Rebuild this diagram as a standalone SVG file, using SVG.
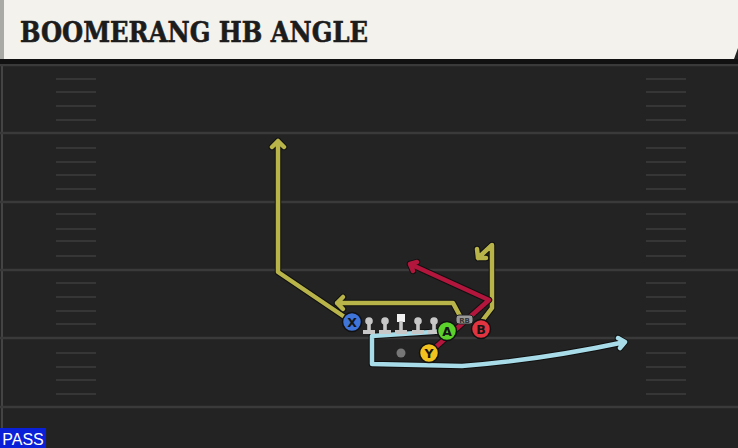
<svg xmlns="http://www.w3.org/2000/svg" xmlns:xlink="http://www.w3.org/1999/xlink" width="738" height="448" viewBox="0 0 738 448">
<style>
.yard{stroke:#3a3a3a;stroke-width:2.5}
.hash{stroke:#363636;stroke-width:2}
.ol{fill:none;stroke:#111;stroke-width:6.5;stroke-linecap:round;stroke-linejoin:round}
.olive{fill:none;stroke:#b8b44a;stroke-width:4.5;stroke-linecap:round;stroke-linejoin:round}
.red{fill:none;stroke:#b3163c;stroke-width:4.5;stroke-linecap:round;stroke-linejoin:round}
.blue{fill:none;stroke:#a8dce8;stroke-width:4.5;stroke-linecap:round;stroke-linejoin:round}
.pl{stroke:#111;stroke-width:1.5}
.lbl{font-family:"DejaVu Sans","Liberation Sans",sans-serif;font-weight:bold;font-size:12.5px;fill:#151515;text-anchor:middle}
.lm{fill:#c8c8c8}
</style>
<defs>
<path id="rX" d="M352,322 L278,272 L278,141 M272,147 L278,141 L284,147"/>
<path id="rRB" d="M460,316 L453,303 L337,303 M343,297 L337,303 L343,309"/>
<path id="rB" d="M482,321 L492,308 L492,245 L478,258 M477,249 L478,258 L486,258"/>
<path id="rY" d="M429,353 L489,300 L410,264 M413,271 L410,264 L417,262"/>
<path id="rA" d="M447,331 L372,336 L372,364 L462,366 Q540,360 625,342 M618,338 L625,342 L620,348"/>
<g id="lineman"><circle cx="0" cy="0" r="3.8" class="lm"/><rect x="-1.8" y="0" width="3.6" height="10" class="lm"/><rect x="-6" y="9" width="12" height="4" class="lm"/></g>
</defs>
<rect width="738" height="448" fill="#232323"/>
<line x1="2" y1="60" x2="2" y2="448" stroke="#444" stroke-width="2"/>
<g id="field">
<line class="yard" x1="0" y1="65" x2="738" y2="65"/>
<line class="yard" x1="0" y1="133" x2="738" y2="133"/>
<line class="yard" x1="0" y1="202" x2="738" y2="202"/>
<line class="yard" x1="0" y1="270" x2="738" y2="270"/>
<line class="yard" x1="0" y1="338" x2="738" y2="338"/>
<line class="yard" x1="0" y1="407" x2="738" y2="407"/>
<path class="hash" d="M56,79H96M56,92H96M56,106H96M56,120H96M56,148H96M56,162H96M56,175H96M56,189H96M56,214H96M56,229H96M56,241H96M56,256H96M56,283H96M56,297H96M56,311H96M56,324H96M56,353H96M56,367H96M56,380H96M56,394H96"/>
<path class="hash" d="M646,79H686M646,92H686M646,106H686M646,120H686M646,148H686M646,162H686M646,175H686M646,189H686M646,214H686M646,229H686M646,241H686M646,256H686M646,283H686M646,297H686M646,311H686M646,324H686M646,353H686M646,367H686M646,380H686M646,394H686"/>
</g>
<g id="header">
<rect x="0" y="59" width="738" height="5" fill="#111"/>
<path d="M0,0 H738 V48 L734,59 H0 Z" fill="#f4f2ec"/>
<rect x="0" y="0" width="4" height="59" fill="#a9aaa6"/>
<text x="20" y="42" font-family="'DejaVu Serif','Liberation Serif',serif" font-weight="bold" font-size="27" fill="#1c1c1c" stroke="#1c1c1c" stroke-width="0.6" textLength="348" lengthAdjust="spacingAndGlyphs">BOOMERANG HB ANGLE</text>
</g>
<g id="connectors">
<use xlink:href="#rA" class="ol"/><use xlink:href="#rA" class="blue"/>
<use xlink:href="#rX" class="ol"/><use xlink:href="#rX" class="olive"/>
<use xlink:href="#rRB" class="ol"/><use xlink:href="#rRB" class="olive"/>
<use xlink:href="#rB" class="ol"/><use xlink:href="#rB" class="olive"/>
<use xlink:href="#rY" class="ol"/><use xlink:href="#rY" class="red"/>
</g>
<g id="linemen">
<use xlink:href="#lineman" x="369" y="321"/>
<use xlink:href="#lineman" x="385" y="321"/>
<use xlink:href="#lineman" x="418" y="321"/>
<use xlink:href="#lineman" x="434" y="321"/>
</g>
<g id="center"><rect x="397" y="314" width="8" height="8" fill="#f2f2f2"/><rect x="399.2" y="321" width="3.6" height="10" class="lm"/><rect x="395" y="330" width="12" height="4" class="lm"/></g>
<g id="qb"><circle cx="401" cy="353" r="4.5" fill="#777"/></g>
<g id="rb"><rect x="456" y="315" width="17" height="9" rx="3" fill="#9a9a9a" stroke="#222" stroke-width="1"/><text x="464.5" y="322.5" font-family="'DejaVu Sans',sans-serif" font-size="7" font-weight="bold" fill="#333" text-anchor="middle">RB</text></g>
<g id="X"><circle cx="352" cy="322" r="9.5" fill="#3f74d8" class="pl"/><text x="352" y="326.5" class="lbl">X</text></g>
<g id="A"><circle cx="447" cy="331" r="9.5" fill="#5cd12c" class="pl"/><text x="447" y="335.5" class="lbl">A</text></g>
<g id="B"><circle cx="481" cy="329" r="9.5" fill="#e23340" class="pl"/><text x="481" y="333.5" class="lbl">B</text></g>
<g id="Y"><circle cx="429" cy="353" r="9.5" fill="#f2c21e" class="pl"/><text x="429" y="357.5" class="lbl">Y</text></g>
<g id="pass"><rect x="0" y="428" width="46" height="20" fill="#0a1fd8"/><text x="23" y="444.5" font-family="'Liberation Sans',Arial,sans-serif" font-size="16" fill="#fff" text-anchor="middle">PASS</text></g>
</svg>
